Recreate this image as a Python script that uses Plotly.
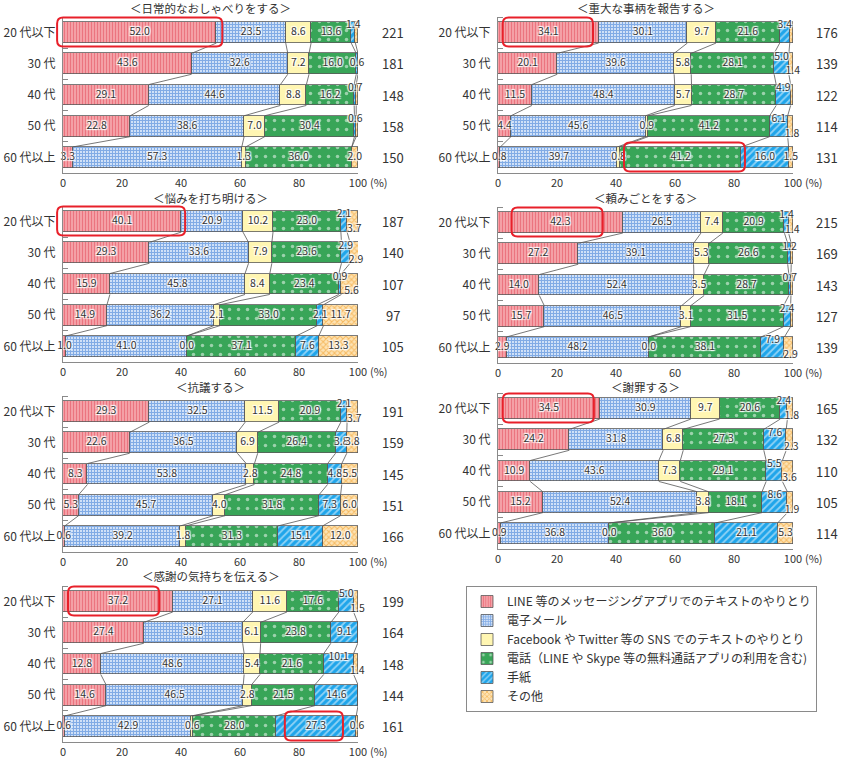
import plotly.graph_objects as go

# ---------------- data ----------------
AGES = ["20 代以下", "30 代", "40 代", "50 代", "60 代以上"]
SERIES = [
    "LINE 等のメッセージングアプリでのテキストのやりとり",
    "電子メール",
    "Facebook や Twitter 等の SNS でのテキストのやりとり",
    "電話（LINE や Skype 等の無料通話アプリの利用を含む)",
    "手紙",
    "その他",
]

TITLES = [
    "＜日常的なおしゃべりをする＞",
    "＜重大な事柄を報告する＞",
    "＜悩みを打ち明ける＞",
    "＜頼みごとをする＞",
    "＜抗議する＞",
    "＜謝罪する＞",
    "＜感謝の気持ちを伝える＞",
]

CHAT = [
    [52.0, 23.5, 8.6, 13.6, 1.4, 0.9],
    [43.6, 32.6, 7.2, 16.0, 0.6, 0.0],
    [29.1, 44.6, 8.8, 16.2, 0.7, 0.7],
    [22.8, 38.6, 7.0, 30.4, 0.6, 0.6],
    [3.3, 57.3, 1.3, 36.0, 0.0, 2.0],
]
CHAT_N = [221, 181, 148, 158, 150]

REPORT = [
    [34.1, 30.1, 9.7, 21.6, 3.4, 1.1],
    [20.1, 39.6, 5.8, 28.1, 5.0, 1.4],
    [11.5, 48.4, 5.7, 28.7, 4.9, 0.8],
    [4.4, 45.6, 0.9, 41.2, 6.1, 1.8],
    [0.8, 39.7, 0.8, 41.2, 16.0, 1.5],
]
REPORT_N = [176, 139, 122, 114, 131]

WORRY = [
    [40.1, 20.9, 10.2, 23.0, 2.1, 3.7],
    [29.3, 33.6, 7.9, 23.6, 2.9, 2.9],
    [15.9, 45.8, 8.4, 23.4, 0.9, 5.6],
    [14.9, 36.2, 2.1, 33.0, 2.1, 11.7],
    [1.0, 41.0, 0.0, 37.1, 7.6, 13.3],
]
WORRY_N = [187, 140, 107, 97, 105]

REQUEST = [
    [42.3, 26.5, 7.4, 20.9, 1.4, 1.4],
    [27.2, 39.1, 5.3, 26.6, 1.2, 0.6],
    [14.0, 52.4, 3.5, 28.7, 0.7, 0.7],
    [15.7, 46.5, 3.1, 31.5, 2.4, 0.8],
    [2.9, 48.2, 0.0, 38.1, 7.9, 2.9],
]
REQUEST_N = [215, 169, 143, 127, 139]

PROTEST = [
    [29.3, 32.5, 11.5, 20.9, 2.1, 3.7],
    [22.6, 36.5, 6.9, 26.4, 3.8, 3.8],
    [8.3, 53.8, 2.8, 24.8, 4.8, 5.5],
    [5.3, 45.7, 4.0, 31.8, 7.3, 6.0],
    [0.6, 39.2, 1.8, 31.3, 15.1, 12.0],
]
PROTEST_N = [191, 159, 145, 151, 166]

APOLOGY = [
    [34.5, 30.9, 9.7, 20.6, 2.4, 1.8],
    [24.2, 31.8, 6.8, 27.3, 7.6, 2.3],
    [10.9, 43.6, 7.3, 29.1, 5.5, 3.6],
    [15.2, 52.4, 3.8, 18.1, 8.6, 1.9],
    [0.9, 36.8, 0.0, 36.0, 21.1, 5.3],
]
APOLOGY_N = [165, 132, 110, 105, 114]

THANKS = [
    [37.2, 27.1, 11.6, 17.6, 5.0, 1.5],
    [27.4, 33.5, 6.1, 23.8, 9.1, 0.0],
    [12.8, 48.6, 5.4, 21.6, 10.1, 1.4],
    [14.6, 46.5, 2.8, 21.5, 14.6, 0.0],
    [0.6, 42.9, 0.6, 28.0, 27.3, 0.6],
]
THANKS_N = [199, 164, 148, 144, 161]

X_TICKS = [0, 20, 40, 60, 80, 100]

PANEL_VALUES = [CHAT, REPORT, WORRY, REQUEST, PROTEST, APOLOGY, THANKS]
PANEL_N = [CHAT_N, REPORT_N, WORRY_N, REQUEST_N, PROTEST_N, APOLOGY_N, THANKS_N]

# ---------------- layout / style ----------------
W, H = 841, 758
FONT = "Noto Sans CJK JP"
TXT = "#333333"

# pixel geometry of each panel: (columns, top of plot area, title centre y)
LEFT_COL = (63, 358)
RIGHT_COL = (498, 793)
PANEL_GEOM = [
    (LEFT_COL, 17, 8),     # chat
    (RIGHT_COL, 17, 8),    # report
    (LEFT_COL, 206, 198),  # worry
    (RIGHT_COL, 207, 198), # request
    (LEFT_COL, 396, 387),  # protest
    (RIGHT_COL, 393, 387), # apology
    (LEFT_COL, 586, 576),  # thanks
]
PANEL_H = 156
N_X = {LEFT_COL: 393, RIGHT_COL: 827}

# highlight boxes (panel, row, x-start %, x-end %)
HIGHLIGHTS = [
    (0, 0, -2.0, 54.0),
    (1, 0, 1.6, 32.2),
    (1, 4, 42.7, 83.7),
    (2, 0, -2.0, 41.4),
    (3, 0, 4.6, 35.5),
    (5, 0, 1.6, 32.5),
    (6, 0, 1.7, 32.6),
    (6, 4, 75.2, 94.9),
]

SERIES_STYLE = [
    dict(color="#f5a8ae", pattern=dict(shape="|", fgcolor="#e2404f", size=3, solidity=0.45, fillmode="overlay")),
    dict(color="#d9e7fa", pattern=dict(shape="+", fgcolor="#2a6fd0", size=3, solidity=0.65, fillmode="overlay")),
    dict(color="#fff6b2"),
    dict(color="#38a558", pattern=dict(shape=".", fgcolor="#ffffff", size=9, solidity=0.12, fillmode="overlay")),
    dict(color="#1fa5ea", pattern=dict(shape="/", fgcolor="#ffffff", size=5, solidity=0.35, fillmode="overlay")),
    dict(color="#fde3b4", pattern=dict(shape="x", fgcolor="#f0920f", size=4, solidity=0.45, fillmode="overlay")),
]

BAR_W = 0.67
HALO = "1px 1px 1px #fff, -1px -1px 1px #fff, 1px -1px 1px #fff, -1px 1px 1px #fff, 0px 0px 2px #fff"

fig = go.Figure()
annotations = []
shapes = []


def dom_x(col):
    return [col[0] / W, col[1] / W]


def dom_y(top):
    return [1 - (top + PANEL_H) / H, 1 - top / H]


rows = list(range(len(AGES)))

for p, vals in enumerate(PANEL_VALUES):
    col, top, title_y = PANEL_GEOM[p]
    sfx = "" if p == 0 else str(p + 1)
    xa, ya = "x" + sfx, "y" + sfx

    # bars
    for k, name in enumerate(SERIES):
        st = SERIES_STYLE[k]
        marker = dict(color=st["color"], line=dict(color="#5a5a5a", width=0.8))
        if "pattern" in st:
            marker["pattern"] = st["pattern"]
        fig.add_trace(go.Bar(
            x=[r[k] for r in vals], y=rows, orientation="h", width=BAR_W,
            name=name, marker=marker, xaxis=xa, yaxis=ya,
            showlegend=(p == 0), legendgroup=name, hoverinfo="skip",
        ))

    # connector lines between successive rows
    lx, ly = [], []
    for i in range(len(vals) - 1):
        for k in range(1, 6):
            c0 = sum(vals[i][:k])
            c1 = sum(vals[i + 1][:k])
            lx += [c0, c1, None]
            ly += [i + BAR_W / 2, i + 1 - BAR_W / 2, None]
    fig.add_trace(go.Scatter(x=lx, y=ly, mode="lines", line=dict(color="#555555", width=0.8),
                             xaxis=xa, yaxis=ya, showlegend=False, hoverinfo="skip"))

    # value labels
    tx, ty, tt = [], [], []
    for i, r in enumerate(vals):
        cum = 0.0
        letter, other = r[4], r[5]
        stacked = letter > 0 and other > 0 and (letter + other) < 12 and min(letter, other) < 3.7
        for k, v in enumerate(r):
            centre = cum + v / 2
            cum += v
            if k >= 4 and v == 0:
                continue
            yy = i
            xx = centre
            if stacked and k == 4:
                yy = i - 0.22
            elif stacked and k == 5:
                yy = i + 0.25
                xx = centre + 0.6
            tx.append(xx)
            ty.append(yy)
            tt.append(f"{v:.1f}")
    fig.add_trace(go.Scatter(
        x=tx, y=ty, text=tt, mode="text", xaxis=xa, yaxis=ya, showlegend=False,
        hoverinfo="skip", cliponaxis=False,
        textfont=dict(family=FONT, size=10.5, color=TXT, shadow=HALO),
    ))

    layout_x = dict(
        domain=dom_x(col), range=[0, 100], tickvals=X_TICKS, showgrid=False, zeroline=False,
        showline=True, linecolor="#8a8a8a", linewidth=1, ticks="", anchor=ya, automargin=False,
        tickfont=dict(family=FONT, size=11, color=TXT), fixedrange=True,
    )
    layout_y = dict(
        domain=dom_y(top), range=[4.5, -0.5], tickvals=rows, ticktext=AGES, showgrid=False,
        zeroline=False, showline=True, linecolor="#8a8a8a", linewidth=1, ticks="",
        ticklabelstandoff=4, anchor=xa, automargin=False,
        minor=dict(tickvals=[-0.5, 0.5, 1.5, 2.5, 3.5, 4.5], ticks="inside", ticklen=5,
                   tickcolor="#8a8a8a", tickwidth=1, showgrid=False),
        tickfont=dict(family=FONT, size=12, color=TXT), fixedrange=True,
    )
    fig.update_layout(**{"xaxis" + sfx: layout_x, "yaxis" + sfx: layout_y})

    # title
    annotations.append(dict(
        text=TITLES[p], xref="paper", yref="paper",
        x=(col[0] + col[1]) / 2 / W, y=1 - title_y / H, showarrow=False,
        font=dict(family=FONT, size=11.5, color=TXT), xanchor="center", yanchor="middle",
    ))
    # (%)
    annotations.append(dict(
        text="(%)", xref=xa, yref="paper", x=100, xshift=10,
        y=1 - (top + PANEL_H + 9) / H, showarrow=False, xanchor="left", yanchor="middle",
        font=dict(family=FONT, size=11, color=TXT),
    ))
    # (n) header and n values
    nx = N_X[col] / W
    annotations.append(dict(
        text="(n)", xref="paper", yref=ya, x=nx, y=-0.52, showarrow=False,
        font=dict(family=FONT, size=12, color=TXT), xanchor="center", yanchor="middle",
    ))
    for i, n in enumerate(PANEL_N[p]):
        annotations.append(dict(
            text=str(n), xref="paper", yref=ya, x=nx, y=i, showarrow=False,
            font=dict(family=FONT, size=13, color=TXT), xanchor="center", yanchor="middle",
        ))

# highlight boxes (decorative, drawn in paper space so they are not clipped)
for p, row, x0v, x1v in HIGHLIGHTS:
    col, top, _ = PANEL_GEOM[p]
    sx = (col[1] - col[0]) / 100.0
    rowh = PANEL_H / 5
    px0 = col[0] + x0v * sx
    px1 = col[0] + x1v * sx
    cy = top + (row + 0.5) * rowh
    py0 = cy - 15
    py1 = cy + 14
    r = 6
    X = lambda v: v / W
    Y = lambda v: 1 - v / H
    path = (
        f"M {X(px0 + r)},{Y(py0)} L {X(px1 - r)},{Y(py0)} "
        f"Q {X(px1)},{Y(py0)} {X(px1)},{Y(py0 + r)} L {X(px1)},{Y(py1 - r)} "
        f"Q {X(px1)},{Y(py1)} {X(px1 - r)},{Y(py1)} L {X(px0 + r)},{Y(py1)} "
        f"Q {X(px0)},{Y(py1)} {X(px0)},{Y(py1 - r)} L {X(px0)},{Y(py0 + r)} "
        f"Q {X(px0)},{Y(py0)} {X(px0 + r)},{Y(py0)} Z"
    )
    shapes.append(dict(type="path", path=path, xref="paper", yref="paper",
                       line=dict(color="#e8202a", width=2), fillcolor="rgba(0,0,0,0)", layer="above"))

fig.update_layout(
    width=W, height=H, margin=dict(l=0, r=0, t=0, b=0, autoexpand=False),
    paper_bgcolor="white", plot_bgcolor="white",
    barmode="stack", bargap=0,
    font=dict(family=FONT, color=TXT),
    annotations=annotations, shapes=shapes,
    legend=dict(
        x=466 / W, y=1 - 586 / H, xanchor="left", yanchor="top",
        bordercolor="#8a8a8a", borderwidth=1, bgcolor="white",
        font=dict(family=FONT, size=12, color=TXT), tracegroupgap=0,
        itemwidth=30, traceorder="normal",
    ),
)

fig.write_html("out.html")
